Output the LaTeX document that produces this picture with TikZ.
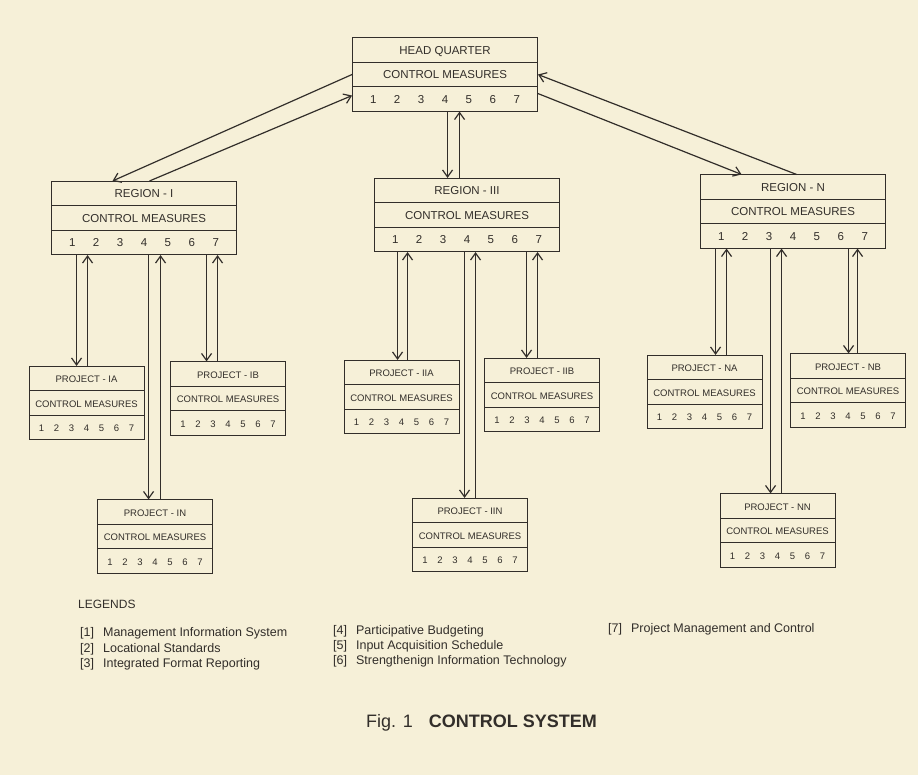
\documentclass[tikz,border=0pt]{standalone}
\usepackage{fontspec}
\setmainfont{Liberation Sans}
\usetikzlibrary{arrows.meta,positioning,shapes.multipart,calc}
\definecolor{paper}{RGB}{246,240,216}
\definecolor{ink}{RGB}{50,46,42}
\newcommand{\rowstrut}{\rule[-7.5pt]{0pt}{23.5pt}}
\newcommand{\nums}[1]{\makebox[#1]{\hfil 1\hfil\hfil 2\hfil\hfil 3\hfil\hfil 4\hfil\hfil 5\hfil\hfil 6\hfil\hfil 7\hfil}}
\begin{document}
\begin{tikzpicture}[x=1pt,y=1pt,
  cmbox/.style={rectangle split,rectangle split parts=3,draw=ink,line width=.9pt,inner xsep=0pt,inner ysep=0pt,text=ink},
  bigbox/.style={cmbox,minimum width=185pt,font=\fontsize{11.5}{13}\selectfont},
  smallbox/.style={cmbox,minimum width=115pt,font=\fontsize{9.5}{11}\selectfont},
  flow/.style={-{Straight Barb[length=7pt,width=10pt]},draw=ink,line width=1.2pt},
  legend/.style={anchor=base west,text=ink,inner sep=0pt,font=\fontsize{12.5}{14}\selectfont}]
\fill[paper] (0,0) rectangle (918,-775);
\useasboundingbox (0,0) rectangle (918,-775);
% head quarter and regions
\node[bigbox] (hq) at (445,-74.5) {\rowstrut HEAD QUARTER\nodepart{two}\rowstrut CONTROL MEASURES\nodepart{three}\rowstrut\nums{185pt}};
\node[bigbox] (r1) at (144,-218) {\rowstrut REGION - I\nodepart{two}\rowstrut CONTROL MEASURES\nodepart{three}\rowstrut\nums{185pt}};
\node[bigbox] (r3) at (467,-215) {\rowstrut REGION - III\nodepart{two}\rowstrut CONTROL MEASURES\nodepart{three}\rowstrut\nums{185pt}};
\node[bigbox] (rn) at (793,-211.5) {\rowstrut REGION - N\nodepart{two}\rowstrut CONTROL MEASURES\nodepart{three}\rowstrut\nums{185pt}};
% projects
\node[smallbox] (pia) at (86.5,-403) {\rowstrut PROJECT - IA\nodepart{two}\rowstrut CONTROL MEASURES\nodepart{three}\rowstrut\nums{115pt}};
\node[smallbox] (pib) at (228,-398.5) {\rowstrut PROJECT - IB\nodepart{two}\rowstrut CONTROL MEASURES\nodepart{three}\rowstrut\nums{115pt}};
\node[smallbox] (pin) at (155,-536.5) {\rowstrut PROJECT - IN\nodepart{two}\rowstrut CONTROL MEASURES\nodepart{three}\rowstrut\nums{115pt}};
\node[smallbox] (piia) at (401.5,-397) {\rowstrut PROJECT - IIA\nodepart{two}\rowstrut CONTROL MEASURES\nodepart{three}\rowstrut\nums{115pt}};
\node[smallbox] (piib) at (542,-395) {\rowstrut PROJECT - IIB\nodepart{two}\rowstrut CONTROL MEASURES\nodepart{three}\rowstrut\nums{115pt}};
\node[smallbox] (piin) at (470,-535) {\rowstrut PROJECT - IIN\nodepart{two}\rowstrut CONTROL MEASURES\nodepart{three}\rowstrut\nums{115pt}};
\node[smallbox] (pna) at (704.5,-392) {\rowstrut PROJECT - NA\nodepart{two}\rowstrut CONTROL MEASURES\nodepart{three}\rowstrut\nums{115pt}};
\node[smallbox] (pnb) at (848,-390.5) {\rowstrut PROJECT - NB\nodepart{two}\rowstrut CONTROL MEASURES\nodepart{three}\rowstrut\nums{115pt}};
\node[smallbox] (pnn) at (777.5,-530.5) {\rowstrut PROJECT - NN\nodepart{two}\rowstrut CONTROL MEASURES\nodepart{three}\rowstrut\nums{115pt}};
% head quarter <-> regions
\draw[flow] (hq.west) -- ($(r1.north west)+(61.5,0)$);
\draw[flow] ($(r1.north west)+(98.5,0)$) -- ($(hq.south west)+(0,16)$);
\draw[flow] (hq.south west) ++(95.5,0) coordinate (t) -- (t |- r3.north);
\draw[flow] (r3.north -| t) ++(12,0) coordinate (u) -- (u |- hq.south);
\draw[flow] ($(rn.north west)+(96.5,0)$) -- (hq.east);
\draw[flow] ($(hq.south east)+(0,18)$) -- ($(rn.north west)+(41.5,0)$);
% regions <-> projects
\foreach \r/\p/\dx/\up in {r1/pia/25.5/11,r1/pin/97.5/12,r1/pib/155.5/11,
    r3/piia/23.5/10,r3/piin/90.5/11,r3/piib/152.5/11,
    rn/pna/15.5/11,rn/pnn/70.5/11,rn/pnb/148.5/9}{
  \draw[flow] (\r.south west) ++(\dx,0) coordinate (t) -- (t |- \p.north);
  \draw[flow] (\p.north -| t) ++(\up,0) coordinate (u) -- (u |- \r.south);
}
% legends
\node[legend,font=\fontsize{12}{14}\selectfont] (leg) at (78,-608) {LEGENDS};
\node[legend] (l1) at (80,-636) {[1]\hspace{9pt}Management Information System};
\node[legend] (l2) at (80,-652) {[2]\hspace{9pt}Locational Standards};
\node[legend] (l3) at (80,-667) {[3]\hspace{9pt}Integrated Format Reporting};
\node[legend] (l4) at (333,-634) {[4]\hspace{9pt}Participative Budgeting};
\node[legend] (l5) at (333,-649) {[5]\hspace{9pt}Input Acquisition Schedule};
\node[legend] (l6) at (333,-664) {[6]\hspace{9pt}Strengthenign Information Technology};
\node[legend] (l7) at (608,-632) {[7]\hspace{9pt}Project Management and Control};
\node[anchor=base west,text=ink,inner sep=0pt,font=\fontsize{18}{21}\selectfont] (title) at (366,-727) {Fig. 1\hspace{16pt}\textbf{CONTROL SYSTEM}};
\end{tikzpicture}
\end{document}
